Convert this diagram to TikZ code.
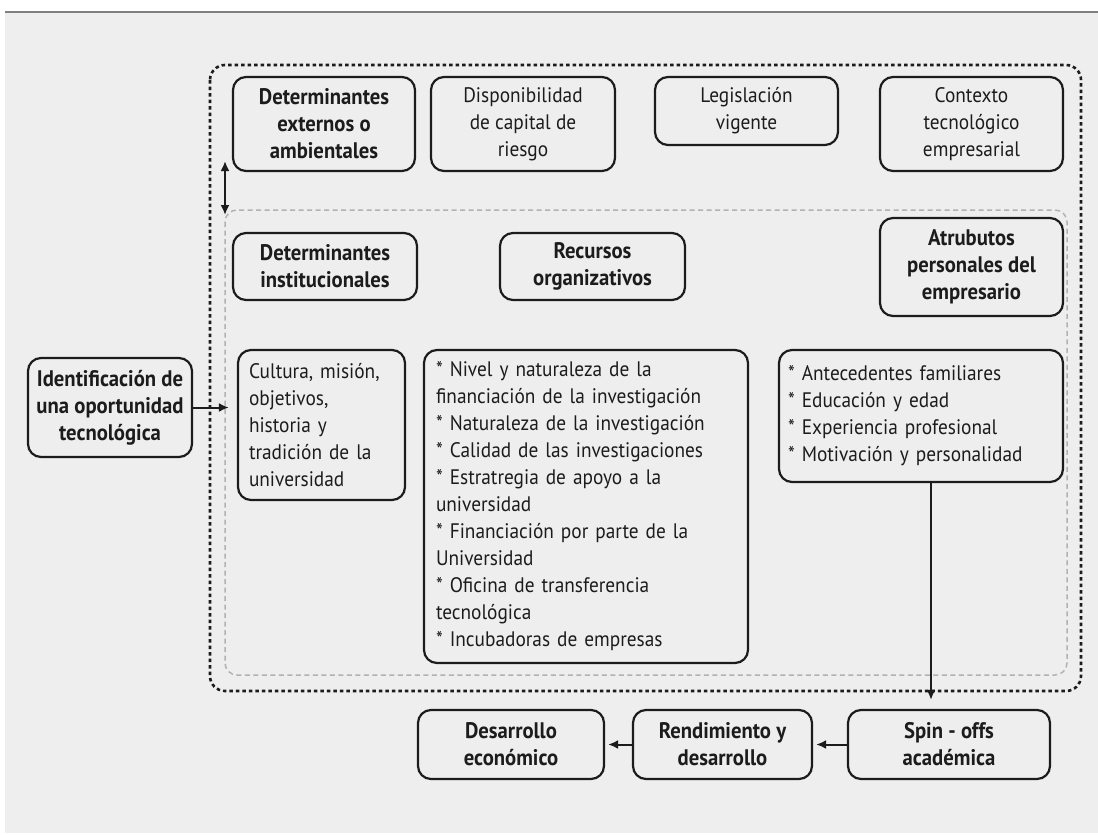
\documentclass[tikz,border=0pt]{standalone}
\usepackage{fontspec}
\setmainfont{PT Sans}[FakeStretch=0.92]
\usetikzlibrary{calc,arrows.meta}
\usepackage{xcolor}
\definecolor{paper}{HTML}{EEEEEE}
\definecolor{ink}{HTML}{1C1C1C}

\begin{document}
\begin{tikzpicture}[x=1pt, y=-1pt,
  box/.style={draw=ink, line width=2.2pt, rounded corners=13pt, text=ink,
    align=center, inner sep=3pt, font=\fontsize{21}{27}\selectfont},
  boldbox/.style={box, font=\fontsize{22.5}{27}\selectfont\bfseries},
  listbox/.style={box, align=left, inner sep=0pt},
  link/.style={ink, line width=2pt, -{Latex[length=10pt,width=9pt]}}]
  \useasboundingbox (0,0) rectangle (1098,835);
  \fill[paper] (5,13) rectangle (1098,833);
  \draw[gray, line width=2pt] (5,12) -- (1098,12);

  % the two frames
  \draw[ink, line width=2.6pt, dash pattern=on 3.5pt off 3pt, rounded corners=15pt]
    (210,65) rectangle (1081,691);
  \draw[gray!60, line width=1.5pt, dash pattern=on 5pt off 3.5pt, rounded corners=12pt]
    (225,210) rectangle (1067,675);

  % external determinants
  \node[boldbox, minimum width=182, minimum height=94] (ext) at (324,124) {Determinantes\\externos o\\ambientales};
  \node[box, minimum width=184, minimum height=94] (capital) at (523,124) {Disponibilidad\\de capital de\\riesgo};
  \node[box, minimum width=183, minimum height=68] (legis) at (746.5,111) {Legislación\\vigente};
  \node[box, minimum width=183, minimum height=94] (ctx) at (971.5,124) {Contexto\\tecnológico\\empresarial};

  % internal determinants
  \node[boldbox, minimum width=184, minimum height=67] (inst) at (325,266.5) {Determinantes\\institucionales};
  \node[boldbox, minimum width=185, minimum height=67] (recur) at (592.5,266.5) {Recursos\\organizativos};
  \node[boldbox, minimum width=183, minimum height=98] (atrib) at (971.5,267) {Atrubutos\\personales del\\empresario};

  \node[boldbox, minimum width=164, minimum height=99, inner sep=1pt] (ident) at (110,407.5) {Identificación de\\una oportunidad\\tecnológica};

  \node[listbox, minimum width=167, minimum height=150, text width=145] (cult) at (321.5,425)
    {Cultura, misión,\\objetivos,\\historia y\\tradición de la\\universidad};
  \node[listbox, minimum width=324, minimum height=313, text width=300] (nivel) at (586,506.5)
    {{*} Nivel y naturaleza de la\\financiación de la investigación\\{*} Naturaleza de la investigación\\{*} Calidad de las investigaciones\\{*} Estratregia de apoyo a la\\universidad\\{*} Financiación por parte de la\\Universidad\\{*} Oficina de transferencia\\tecnológica\\{*} Incubadoras de empresas};
  \node[listbox, minimum width=284, minimum height=132, text width=266] (antec) at (921,416)
    {{*} Antecedentes familiares\\{*} Educación y edad\\{*} Experiencia profesional\\{*} Motivación y personalidad};

  % outcomes
  \node[boldbox, minimum width=202, minimum height=69] (spin) at (949,744.5) {Spin - offs\\académica};
  \node[boldbox, minimum width=179, minimum height=69] (rend) at (722.5,744.5) {Rendimiento y\\desarrollo};
  \node[boldbox, minimum width=186, minimum height=69] (desa) at (511,744.5) {Desarrollo\\económico};

  \coordinate (upper) at (225,161);
  \coordinate (lower) at (225,215);
  \draw[link, {Latex[length=10pt,width=9pt]}-{Latex[length=10pt,width=9pt]}] (upper) -- (lower);
  \draw[link, shorten >=8pt] (ident.east) -- (ident.east -| cult.west);
  \draw[link, shorten >=9pt] ([xshift=10pt]antec.south) -- ([xshift=10pt]antec.south |- spin.north);
  \draw[link, shorten >=3pt] (spin.west) -- (rend.east);
  \draw[link, shorten >=3pt] (rend.west) -- (desa.east);
\end{tikzpicture}
\end{document}
